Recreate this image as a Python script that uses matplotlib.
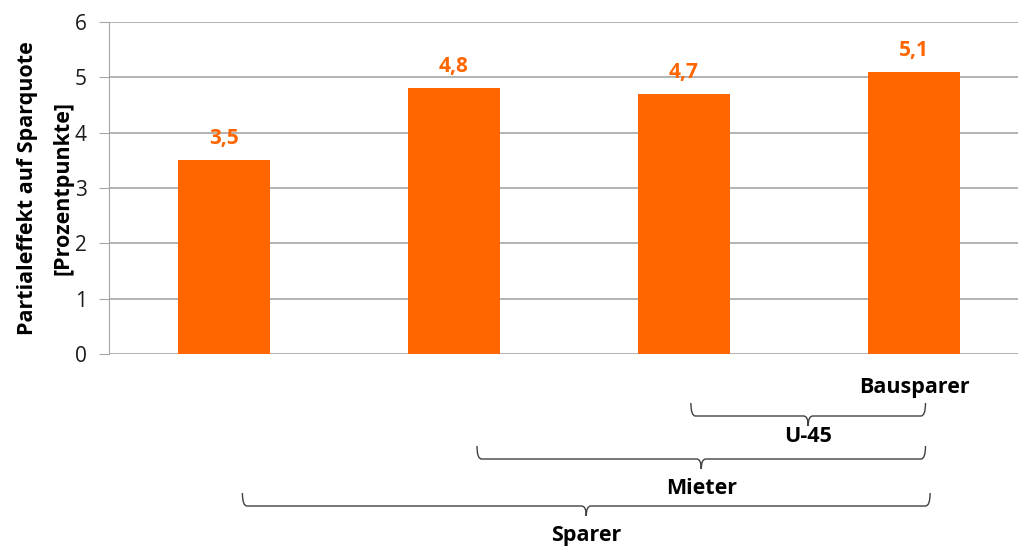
import numpy as np
import matplotlib.pyplot as plt
from matplotlib.path import Path
from matplotlib.patches import PathPatch
import matplotlib.transforms as mtransforms

plt.rcParams['font.family'] = ['Open Sans', 'DejaVu Sans']

# data
values = [3.5, 4.8, 4.7, 5.1]
value_labels = ['3,5', '4,8', '4,7', '5,1']
yticks = [0, 1, 2, 3, 4, 5, 6]

# group braces below the bars: (label, left category pos, right category pos)
brace_labels = ['U-45', 'Mieter', 'Sparer']
brace_left = [2.03, 1.10, 0.08]
brace_right = [3.05, 3.05, 3.07]
top_label = 'Bausparer'

orange = '#FF6600'
grid_col = '#A6A6A6'

fig = plt.figure(figsize=(10.18, 5.46), dpi=100)
ax = fig.add_axes([109 / 1018, 192 / 546, 920 / 1018, 332 / 546])

x = np.arange(len(values))
ax.bar(x, values, width=0.4, color=orange, zorder=3)
for xi, v, lab in zip(x, values, value_labels):
    ax.annotate(lab, (xi, v), xytext=(0, 8), textcoords='offset points',
                ha='center', va='bottom', color=orange, fontsize=15,
                fontweight='bold')

ax.set_xlim(-0.5, len(values) - 0.5)
ax.set_ylim(0, 6)
ax.set_yticks(yticks)
ax.set_yticklabels([str(t) for t in yticks], fontsize=15, color='#1a1a1a')
ax.set_xticks([])
ax.yaxis.grid(True, color=grid_col, linewidth=1.2, zorder=0)
ax.set_axisbelow(True)
for s in ['top', 'right', 'bottom']:
    ax.spines[s].set_visible(False)
ax.spines['left'].set_color(grid_col)
ax.tick_params(axis='y', length=7, color=grid_col, pad=9)

fig.text(28 / 1018, 1 - 188 / 546, 'Partialeffekt auf Sparquote', rotation=90,
         ha='center', va='center', fontsize=15.5, fontweight='bold')
fig.text(63 / 1018, 1 - 188 / 546, '[Prozentpunkte]', rotation=90,
         ha='center', va='center', fontsize=15.5, fontweight='bold')

# braces drawn with x in data coords and y in figure pixels
trans = mtransforms.blended_transform_factory(ax.transData, fig.dpi_scale_trans)
px = 1 / 100.0

ax.text(3, (546 - 388) * px, top_label, transform=trans, ha='center',
        va='center', fontsize=15.5, fontweight='bold', clip_on=False)

brace_tops = [403, 446, 493]
brace_text_y = [437, 488, 535]
for lab, x0, x1, ytop, ty in zip(brace_labels, brace_left, brace_right,
                                 brace_tops, brace_text_y):
    xm = (x0 + x1) / 2
    d = 0.02
    yt = (546 - ytop) * px
    yh = (546 - ytop - 13) * px
    ytip = (546 - ytop - 23) * px
    verts = [(x0, yt), (x0, yh), (x0 + d, yh),
             (xm - d, yh), (xm, yh), (xm, ytip),
             (xm, yh), (xm + d, yh),
             (x1 - d, yh), (x1, yh), (x1, yt)]
    codes = [Path.MOVETO, Path.CURVE3, Path.CURVE3,
             Path.LINETO, Path.CURVE3, Path.CURVE3,
             Path.CURVE3, Path.CURVE3,
             Path.LINETO, Path.CURVE3, Path.CURVE3]
    patch = PathPatch(Path(verts, codes), transform=trans, fill=False,
                      edgecolor='#404040', linewidth=1.0, clip_on=False)
    ax.add_artist(patch)
    ax.text(xm, (546 - ty) * px, lab, transform=trans, ha='center',
            va='center', fontsize=15.5, fontweight='bold', clip_on=False)

fig.savefig('out.png', dpi=100)
